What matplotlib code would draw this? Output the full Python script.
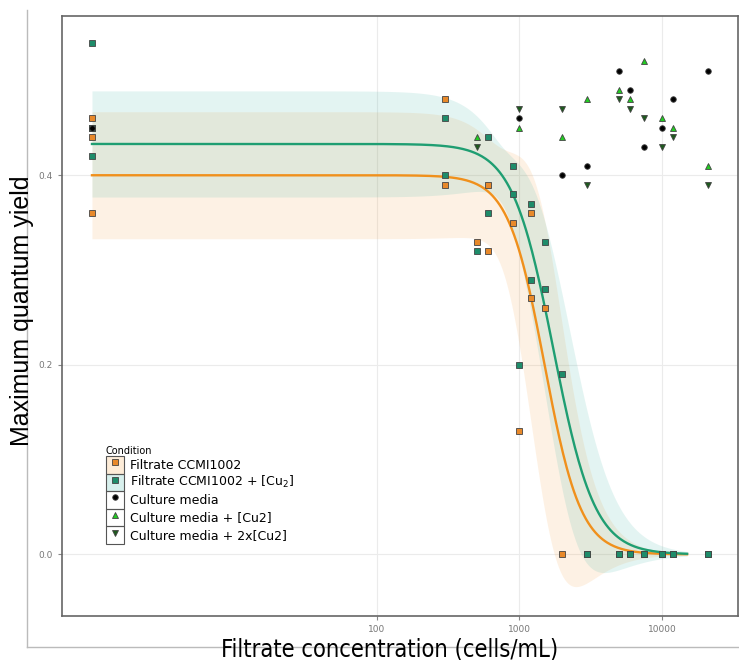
import numpy as np
import matplotlib
matplotlib.use('Agg')
import matplotlib.pyplot as plt
from matplotlib.lines import Line2D
from matplotlib.patches import Patch

# 濃度 (cells/mL) と最大量子収率
filt_conc = [1, 1, 1, 1, 300, 300, 500, 600, 600, 900, 1000, 1200, 1200, 1500, 2000,
             3000, 5000, 6000, 7500, 10000, 12000, 21000]
filt_yield = [0.46, 0.45, 0.44, 0.36, 0.48, 0.39, 0.33, 0.39, 0.32, 0.35, 0.13, 0.36, 0.27, 0.26, 0.0,
              0.0, 0.0, 0.0, 0.0, 0.0, 0.0, 0.0]

cu_conc = [1, 1, 1, 300, 300, 500, 600, 600, 900, 900, 1000, 1200, 1200, 1500, 1500, 2000,
           3000, 5000, 6000, 7500, 10000, 12000, 21000]
cu_yield = [0.54, 0.45, 0.42, 0.46, 0.40, 0.32, 0.44, 0.36, 0.41, 0.38, 0.20, 0.37, 0.29, 0.33, 0.28, 0.19,
            0.0, 0.0, 0.0, 0.0, 0.0, 0.0, 0.0]

media_conc = [1, 1000, 2000, 3000, 5000, 6000, 7500, 10000, 12000, 21000]
media_yield = [0.45, 0.46, 0.40, 0.41, 0.51, 0.49, 0.43, 0.45, 0.48, 0.51]

media_cu_conc = [500, 1000, 2000, 3000, 5000, 6000, 7500, 10000, 12000, 21000]
media_cu_yield = [0.44, 0.45, 0.44, 0.48, 0.49, 0.48, 0.52, 0.46, 0.45, 0.41]

media_2cu_conc = [500, 1000, 2000, 3000, 5000, 6000, 7500, 10000, 12000, 21000]
media_2cu_yield = [0.43, 0.47, 0.47, 0.39, 0.48, 0.47, 0.46, 0.43, 0.44, 0.39]

# 用量反応曲線 (log-logistic) のパラメータ: [Filtrate, Filtrate + Cu]
fit_top = [0.400, 0.433]
fit_ec50 = [1500, 1730]
fit_slope = [3.4, 3.0]
se_top = [0.0335, 0.028]
se_log_ec50 = [0.24, 0.18]
se_slope = [0.9, 0.8]
corr_top_ec50 = [-0.4, -0.7]
corr_top_slope = [-0.3, -0.5]
fit_xmax = 15000

line_colors = ['#F0901C', '#1F9E72']
fill_colors = ['#F7A040', '#3FB5A5']
filt_color = '#E8892A'
cu_color = '#1E8C6A'


def ll3(x, i):
    return fit_top[i] / (1 + (x / fit_ec50[i]) ** fit_slope[i])


def ll3_band(x, i):
    d, b = fit_top[i], fit_slope[i]
    lx = np.log(x) - np.log(fit_ec50[i])
    s = 1 / (1 + np.exp(b * lx))
    g = d * s * (1 - s)
    grad = np.vstack([s, g * b, -g * lx])
    sd = np.array([se_top[i], se_log_ec50[i], se_slope[i]])
    corr = np.eye(3)
    corr[0, 1] = corr[1, 0] = corr_top_ec50[i]
    corr[0, 2] = corr[2, 0] = corr_top_slope[i]
    cov = corr * np.outer(sd, sd)
    var = np.einsum('in,ij,jn->n', grad, cov, grad)
    f = d * s
    half = 2 * np.sqrt(np.clip(var, 0, None))
    return f - half, f + half


fig = plt.figure(figsize=(7.39, 6.6), dpi=100)
ax = fig.add_axes([62 / 739, 44 / 660, 676 / 739, 600 / 660])

xs = np.logspace(0, np.log10(fit_xmax), 500)
for i in range(2):
    lo, hi = ll3_band(xs, i)
    ax.fill_between(xs, lo, hi, color=fill_colors[i], alpha=0.14, linewidth=0, zorder=1)
for i in range(2):
    ax.plot(xs, ll3(xs, i), color=line_colors[i], lw=1.7, zorder=2)

mk = dict(linestyle='none', mec='#444444', mew=0.6, zorder=3)
ax.plot(filt_conc, filt_yield, marker='s', ms=4, mfc=filt_color, **mk)
ax.plot(cu_conc, cu_yield, marker='s', ms=4, mfc=cu_color, **mk)
ax.plot(media_conc, media_yield, marker='o', ms=4, mfc='black', **mk)
ax.plot(media_cu_conc, media_cu_yield, marker='^', ms=5, mfc='#22CC22', **mk)
ax.plot(media_2cu_conc, media_2cu_yield, marker='v', ms=5, mfc='#1E5A1E', **mk)

ax.set_xscale('log')
ax.set_xlim(0.616, 34150)
ax.set_ylim(-0.065, 0.568)
ax.set_xticks([100, 1000, 10000])
ax.set_xticklabels(['100', '1000', '10000'])
ax.xaxis.set_minor_locator(matplotlib.ticker.NullLocator())
ax.set_yticks([0.0, 0.2, 0.4])
ax.set_yticklabels(['0.0', '0.2', '0.4'])
ax.tick_params(labelsize=6.5, labelcolor='#777777', color='#888888', length=3, width=0.8)
ax.grid(True, color='#ebebeb', lw=0.8, zorder=0)
ax.set_axisbelow(True)
for sp in ax.spines.values():
    sp.set_color('#666666')
    sp.set_linewidth(1.2)

# 凡例
box = dict(facecolor='none', edgecolor='#555555', lw=0.8)
handles = [
    (Patch(facecolor=fill_colors[0], alpha=0.2, edgecolor='none'), Patch(**box),
     Line2D([], [], marker='s', ms=4, mfc=filt_color, **mk)),
    (Patch(facecolor=fill_colors[1], alpha=0.2, edgecolor='none'), Patch(**box),
     Line2D([], [], marker='s', ms=4, mfc=cu_color, **mk)),
    (Patch(**box), Line2D([], [], marker='o', ms=4, mfc='black', **mk)),
    (Patch(**box), Line2D([], [], marker='^', ms=5, mfc='#22CC22', **mk)),
    (Patch(**box), Line2D([], [], marker='v', ms=5, mfc='#1E5A1E', **mk)),
]
labels = ['Filtrate CCMI1002', 'Filtrate CCMI1002 + [Cu$_2$]', 'Culture media',
          'Culture media + [Cu2]', 'Culture media + 2x[Cu2]']
leg = ax.legend(handles, labels, title='Condition', loc='upper left',
                bbox_to_anchor=((106 - 62) / 676, (616 - 446) / 600), frameon=False,
                fontsize=9, title_fontsize=7, handlelength=1.44, handleheight=1.78,
                labelspacing=0.0, handletextpad=0.45, borderpad=0, borderaxespad=0,
                alignment='left')

# 外枠
fig.add_artist(Line2D([27 / 739, 27 / 739], [13 / 660, 650 / 660], color='#bbbbbb', lw=1))
fig.add_artist(Line2D([27 / 739, 1], [13 / 660, 13 / 660], color='#bbbbbb', lw=1))

fig.text(22 / 739, (660 - 311) / 660, 'Maximum quantum yield', rotation=90, ha='center', va='center',
         fontsize=18, family='Liberation Sans')
fig.text(390 / 739, 11 / 660, 'Filtrate concentration (cells/mL)', ha='center', va='center',
         fontsize=17, family='DejaVu Sans', fontstretch='condensed')

fig.savefig('out.png', dpi=100)
